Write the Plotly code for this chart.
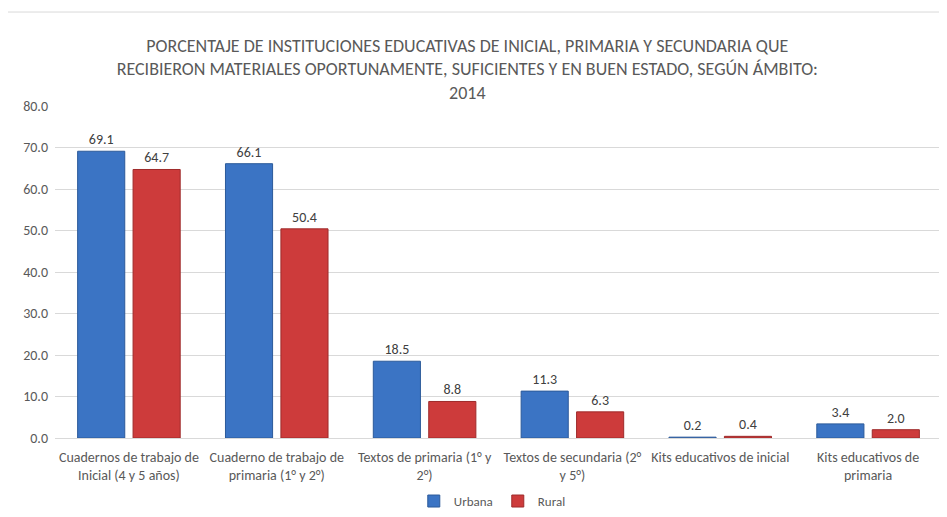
import plotly.graph_objects as go

# Datos
categorias = [
    "Cuadernos de trabajo de<br>Inicial (4 y 5 años)",
    "Cuaderno de trabajo de<br>primaria (1° y 2°)",
    "Textos de primaria (1° y<br>2°)",
    "Textos de secundaria (2°<br>y 5°)",
    "Kits educativos de inicial",
    "Kits educativos de<br>primaria",
]
urbana = [69.1, 66.1, 18.5, 11.3, 0.2, 3.4]
rural = [64.7, 50.4, 8.8, 6.3, 0.4, 2.0]

titulo = (
    "PORCENTAJE DE INSTITUCIONES EDUCATIVAS DE INICIAL, PRIMARIA Y SECUNDARIA QUE<br>"
    "RECIBIERON MATERIALES OPORTUNAMENTE, SUFICIENTES Y EN BUEN ESTADO, SEGÚN ÁMBITO:<br>"
    "2014"
)

FONT = "Carlito, Calibri, Lato, sans-serif"
GRIS = "#595959"

fig = go.Figure()
fig.add_trace(go.Bar(
    name="Urbana", x=categorias, y=urbana,
    marker=dict(color="#3B74C4", line=dict(color="#2C5A9A", width=1)),
    text=[f"{v:.1f}" for v in urbana], textposition="outside",
    textfont=dict(size=14, color="#404040", family=FONT),
    cliponaxis=False,
))
fig.add_trace(go.Bar(
    name="Rural", x=categorias, y=rural,
    marker=dict(color="#CD3B3B", line=dict(color="#9E2B2B", width=1)),
    text=[f"{v:.1f}" for v in rural], textposition="outside",
    textfont=dict(size=14, color="#404040", family=FONT),
    cliponaxis=False,
))

# la página tiene un margen de 8 px, se compensa en los márgenes
fig.update_layout(
    width=947, height=517,
    paper_bgcolor="white", plot_bgcolor="white",
    font=dict(family=FONT, color=GRIS, size=14),
    margin=dict(l=47, r=13, t=98, b=87, autoexpand=False),
    barmode="group", bargap=0.25, bargroupgap=0.15,
    title=dict(
        text=titulo, x=0.485, xanchor="center", xref="container",
        y=1 - 44 / 517, yanchor="middle", yref="container",
        font=dict(size=18, color=GRIS, family=FONT),
    ),
    legend=dict(
        orientation="h", x=0.493, xanchor="center", y=-0.19, yanchor="middle",
        font=dict(size=13, color=GRIS), itemwidth=30,
    ),
    showlegend=True,
    shapes=[dict(
        type="rect", xref="paper", yref="paper",
        x0=-0.0566, x1=1.009, y0=-0.3, y1=1.283,
        line=dict(color="#D9D9D9", width=1), layer="below",
    )],
)
fig.update_yaxes(
    range=[0, 80], dtick=10, tickformat=".1f",
    gridcolor="#D9D9D9", zeroline=False, showline=False,
    tickfont=dict(size=14, color=GRIS), ticks="", ticklabelstandoff=6,
)
fig.update_xaxes(
    showline=True, linecolor="#D9D9D9", tickfont=dict(size=14, color=GRIS),
    ticks="", ticklabelstandoff=6,
)

fig.write_html("out.html")
